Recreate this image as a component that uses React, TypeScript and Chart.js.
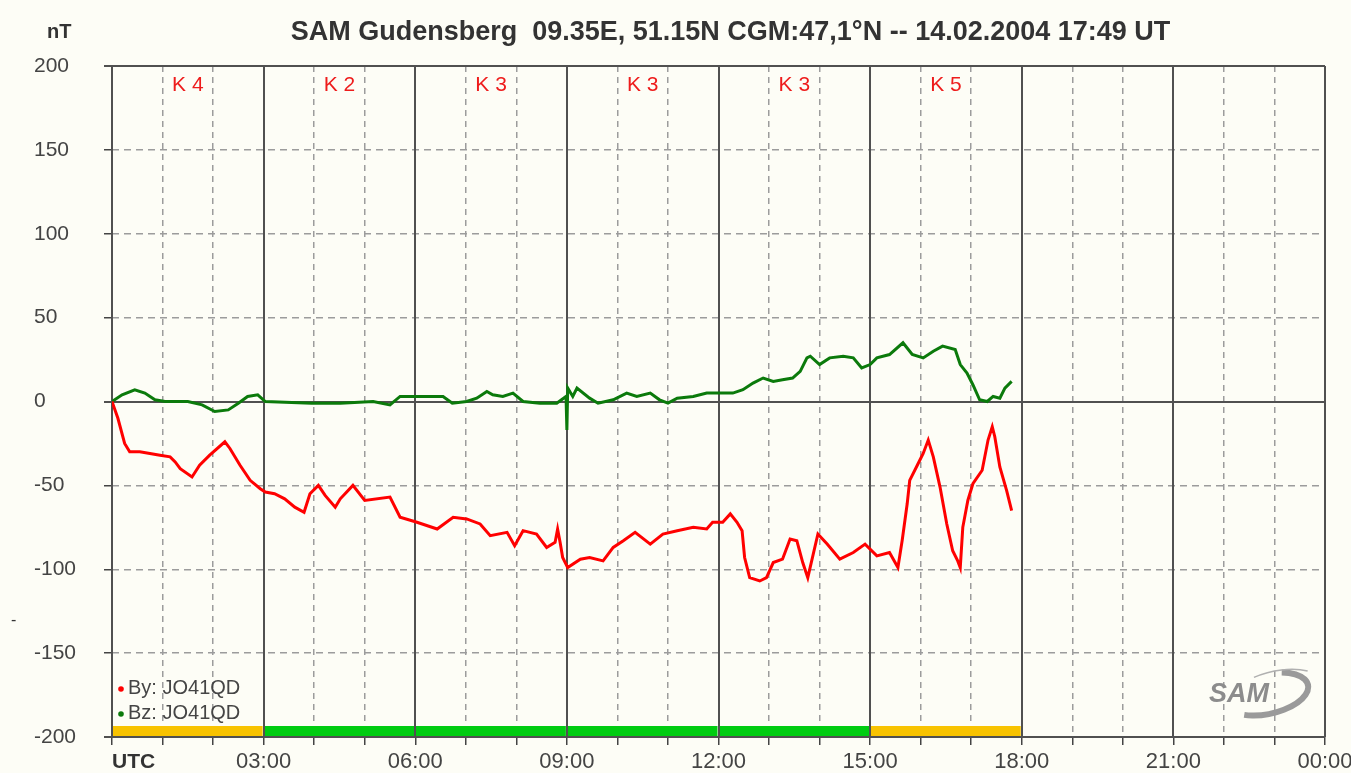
import React, { useEffect, useRef } from 'react';
import { Chart, registerables } from 'chart.js';

Chart.register(...registerables);

const FONT = "'Liberation Sans', Arial, Helvetica, sans-serif";
const BG = '#fdfdf6';
const GRID = '#9c9c9c';
const FRAME = '#505050';

const titleText = 'SAM Gudensberg  09.35E, 51.15N CGM:47,1°N -- 14.02.2004 17:49 UT';
const unitLabel = 'nT';
const timeAxisLabel = 'UTC';

// K-index blocks (start minute of each 3-hour block and its K value)
const kBlockStarts = [0, 180, 360, 540, 720, 900];
const kIndex = [4, 2, 3, 3, 3, 5];

const seriesLabels = ['By: JO41QD', 'Bz: JO41QD'];
const seriesColors = ['#ff0000', '#0b7a0b'];

// By component (minutes after 00:00 UTC, nT)
const byMinutes = [
  0, 7, 15, 21, 33, 45, 57, 69, 75, 81,
  95, 104, 116, 134, 140, 152, 164, 176, 182, 193,
  205, 217, 228, 235, 245, 253, 265, 271, 286, 300,
  330, 342, 362, 386, 405, 421, 437, 449, 469, 478,
  488, 504, 516, 526, 529, 532, 535, 541, 556, 567,
  583, 595, 607, 621, 639, 654, 671, 690, 706, 713,
  725, 734, 742, 748, 751, 757, 769, 777, 785, 796,
  805, 813, 820, 826, 838, 849, 864, 880, 894, 908,
  923, 933, 938, 944, 947, 956, 963, 969, 975, 983,
  991, 998, 1004, 1007, 1010, 1016, 1022, 1033, 1040, 1045,
  1048, 1054, 1062, 1068,
];
const byValues = [
  0, -10, -25, -30, -30, -31, -32, -33, -36, -40,
  -45, -38, -32, -24, -28, -38, -47, -52, -54, -55,
  -58, -63, -66, -55, -50, -56, -63, -58, -50, -59,
  -57, -69, -72, -76, -69, -70, -73, -80, -78, -86,
  -77, -79, -87, -84, -76, -84, -93, -99, -94, -93,
  -95, -87, -83, -78, -85, -79, -77, -75, -76, -72,
  -72, -67, -72, -77, -93, -105, -107, -105, -96, -94,
  -82, -83, -96, -105, -79, -85, -94, -90, -85, -92,
  -90, -99, -83, -61, -47, -38, -31, -23, -33, -51,
  -73, -89, -95, -99, -75, -59, -49, -41, -23, -15,
  -21, -39, -53, -65,
];

// Bz component (minutes after 00:00 UTC, nT)
const bzMinutes = [
  0, 12, 27, 39, 51, 63, 90, 107, 122, 138,
  150, 161, 173, 182, 237, 271, 310, 330, 342, 369,
  393, 404, 421, 433, 445, 452, 464, 476, 488, 508,
  528, 539, 540, 541, 547, 552, 567, 577, 595, 611,
  623, 639, 650, 660, 671, 690, 706, 722, 737, 749,
  761, 773, 785, 796, 808, 817, 825, 829, 840, 852,
  868, 880, 890, 900, 908, 923, 939, 950, 963, 975,
  986, 1001, 1007, 1015, 1022, 1030, 1039, 1046, 1054, 1060,
  1068,
];
const bzValues = [
  0, 4, 7, 5, 1, 0, 0, -2, -6, -5,
  -1, 3, 4, 0, -1, -1, 0, -2, 3, 3,
  3, -1, 0, 2, 6, 4, 3, 5, 0, -1,
  -1, 3, -17, 8, 3, 8, 2, -1, 1, 5,
  3, 5, 1, -1, 2, 3, 5, 5, 5, 7,
  11, 14, 12, 13, 14, 18, 26, 27, 22, 26,
  27, 26, 20, 22, 26, 28, 35, 28, 26, 30,
  33, 31, 22, 17, 10, 1, 0, 3, 2, 8,
  12,
];

const solidYValues = [200, 0, -200];

function fmtTime(v: number): string {
  const h = Math.round(v / 60) % 24;
  return (h < 10 ? '0' : '') + h + ':00';
}

const decorPlugin = {
  id: 'samDecor',
  beforeDraw(chart: any) {
    const { ctx, width, height } = chart;
    ctx.save();
    ctx.fillStyle = BG;
    ctx.fillRect(0, 0, width, height);
    ctx.restore();
  },
  beforeDatasetsDraw(chart: any) {
    const { ctx, chartArea: ca, scales } = chart;
    const x = scales.x;
    const y = scales.y;
    ctx.save();
    // K-index colour bar along the bottom
    const barH = 11;
    kIndex.forEach((k, i) => {
      const x0 = x.getPixelForValue(kBlockStarts[i]);
      const x1 = x.getPixelForValue(kBlockStarts[i] + 180);
      ctx.fillStyle = k >= 4 ? '#f8c300' : '#00cc11';
      ctx.fillRect(x0, ca.bottom - barH, x1 - x0 - 1, barH);
    });
    // solid 3-hour lines
    ctx.strokeStyle = FRAME;
    ctx.lineWidth = 2;
    for (let m = 0; m <= 1440; m += 180) {
      const px = Math.round(x.getPixelForValue(m));
      ctx.beginPath();
      ctx.moveTo(px, ca.top);
      ctx.lineTo(px, ca.bottom);
      ctx.stroke();
    }
    // solid horizontal lines (top, zero, bottom)
    solidYValues.forEach((v) => {
      const py = Math.round(y.getPixelForValue(v));
      ctx.beginPath();
      ctx.moveTo(ca.left - 8, py);
      ctx.lineTo(ca.right, py);
      ctx.stroke();
    });
    ctx.restore();
  },
  afterDatasetsDraw(chart: any) {
    const { ctx, chartArea: ca, scales } = chart;
    const x = scales.x;
    ctx.save();
    // K labels
    ctx.fillStyle = '#ee1c1c';
    ctx.font = `21px ${FONT}`;
    ctx.textAlign = 'center';
    ctx.textBaseline = 'middle';
    kIndex.forEach((k, i) => {
      const cx = x.getPixelForValue(kBlockStarts[i] + 90);
      ctx.fillText('K ' + k, cx, ca.top + 19);
    });
    // legend inside the chart, bottom-left
    ctx.textAlign = 'left';
    ctx.font = `20px ${FONT}`;
    chart.data.datasets.forEach((ds: any, i: number) => {
      const ly = ca.bottom - 49 + i * 25;
      ctx.fillStyle = ds.borderColor;
      ctx.beginPath();
      ctx.arc(ca.left + 9, ly + 1, 2.8, 0, Math.PI * 2);
      ctx.fill();
      ctx.fillStyle = '#454545';
      ctx.fillText(ds.label, ca.left + 16, ly);
    });
    // SAM logo (bottom right)
    const lx = ca.right - 88;
    const ly = ca.bottom - 45;
    ctx.strokeStyle = '#9a9a9a';
    ctx.lineWidth = 6;
    ctx.beginPath();
    ctx.ellipse(lx + 30, ly + 2, 42, 20, -0.22, -0.35 * Math.PI, 0.72 * Math.PI);
    ctx.stroke();
    ctx.lineWidth = 1.5;
    ctx.strokeStyle = '#b0b0b0';
    ctx.beginPath();
    ctx.ellipse(lx + 40, ly + 4, 50, 25, -0.22, -0.62 * Math.PI, -0.25 * Math.PI);
    ctx.stroke();
    ctx.fillStyle = '#8c8c8c';
    ctx.font = `italic bold 27px ${FONT}`;
    ctx.textAlign = 'center';
    ctx.fillText('SAM', lx + 2, ly + 3);
    ctx.restore();
  },
  afterDraw(chart: any) {
    const { ctx, chartArea: ca, scales } = chart;
    ctx.save();
    ctx.fillStyle = '#333';
    ctx.textBaseline = 'middle';
    ctx.textAlign = 'center';
    ctx.font = `bold 27px ${FONT}`;
    ctx.fillText(titleText, (ca.left + ca.right) / 2 + 12, 33);
    ctx.textAlign = 'left';
    ctx.font = `bold 20px ${FONT}`;
    ctx.fillText(unitLabel, 47, 32);
    ctx.font = `bold 21px ${FONT}`;
    ctx.fillText(timeAxisLabel, scales.x.getPixelForValue(0), 762);
    ctx.font = `16px ${FONT}`;
    ctx.fillText('-', 11, 621);
    ctx.restore();
  },
};

export default function App() {
  const canvasRef = useRef<HTMLCanvasElement | null>(null);

  useEffect(() => {
    document.body.style.margin = '0';
    document.body.style.background = BG;
    const canvas = canvasRef.current;
    if (!canvas) return;
    const chart = new Chart(canvas, {
      type: 'line',
      data: {
        datasets: [
          {
            label: seriesLabels[0],
            data: byMinutes.map((m, i) => ({ x: m, y: byValues[i] })),
            borderColor: seriesColors[0],
            backgroundColor: seriesColors[0],
            borderWidth: 3,
            pointRadius: 0,
            tension: 0,
          },
          {
            label: seriesLabels[1],
            data: bzMinutes.map((m, i) => ({ x: m, y: bzValues[i] })),
            borderColor: seriesColors[1],
            backgroundColor: seriesColors[1],
            borderWidth: 3,
            pointRadius: 0,
            tension: 0,
          },
        ],
      },
      options: {
        responsive: false,
        animation: false,
        devicePixelRatio: 1,
        layout: { padding: { left: 34, right: 26, top: 66, bottom: 0 } },
        plugins: {
          legend: { display: false },
          title: { display: false },
          tooltip: { enabled: false },
        },
        scales: {
          x: {
            type: 'linear',
            min: 0,
            max: 1440,
            afterFit: (s: any) => {
              s.height = 36;
              s.paddingLeft = 0;
              s.paddingRight = 0;
            },
            ticks: {
              stepSize: 60,
              autoSkip: false,
              maxRotation: 0,
              padding: 4,
              color: '#444',
              font: { family: FONT, size: 22 },
              callback: (v: any) => {
                const n = Number(v);
                return n % 180 === 0 && n !== 0 ? fmtTime(n) : '';
              },
            },
            grid: {
              color: (c: any) =>
                c.tick && c.tick.value % 180 === 0 ? 'rgba(0,0,0,0)' : GRID,
              lineWidth: 1.5,
              tickColor: '#444',
              tickLength: 8,
              tickWidth: 1.5,
            },
            border: { display: false, dash: [6, 5] },
          },
          y: {
            min: -200,
            max: 200,
            afterFit: (s: any) => {
              s.width = 78;
            },
            ticks: {
              stepSize: 50,
              crossAlign: 'far',
              padding: 6,
              color: '#444',
              font: { family: FONT, size: 21 },
            },
            grid: {
              color: (c: any) =>
                c.tick && solidYValues.includes(c.tick.value) ? 'rgba(0,0,0,0)' : GRID,
              lineWidth: 1.5,
              tickColor: '#444',
              tickLength: 8,
              tickWidth: 1.5,
            },
            border: { display: false, dash: [7, 5] },
          },
        },
      },
      plugins: [decorPlugin],
    } as any);
    return () => chart.destroy();
  }, []);

  return (
    <div style={{ width: 1351, height: 773, background: BG }}>
      <canvas ref={canvasRef} width={1351} height={773} style={{ display: 'block' }} />
    </div>
  );
}
